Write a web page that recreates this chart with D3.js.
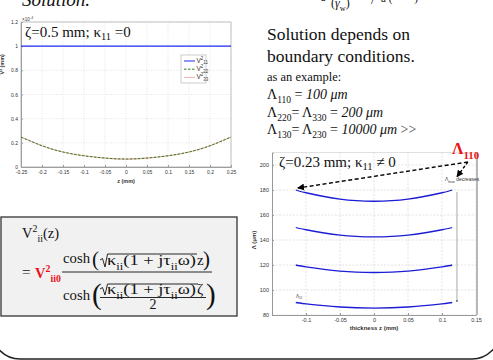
<!DOCTYPE html>
<html>
<head>
<meta charset="utf-8">
<script src="https://cdn.jsdelivr.net/npm/d3@7"></script>
<style>
  body { margin: 0; background: #fff; }
  svg { display: block; }
  .serif { font-family: "Liberation Serif", "Times New Roman", serif; fill: #111; }
  .tick-lbl { font-family: "Liberation Sans", Arial, sans-serif; font-size: 5px; fill: #333; }
</style>
</head>
<body>
<div id="chart"></div>
<script>
// ---- left plot: V^2 profiles, zeta = 0.5 mm
const leftZ = [-0.25, -0.2, -0.15, -0.1, -0.05, 0, 0.05, 0.1, 0.15, 0.2, 0.25];
const leftV11 = [1, 1, 1, 1, 1, 1, 1, 1, 1, 1, 1];
const leftV22 = [0.248, 0.176, 0.124, 0.093, 0.074, 0.066, 0.074, 0.093, 0.124, 0.176, 0.248];
const leftV33 = [0.248, 0.176, 0.124, 0.093, 0.074, 0.066, 0.074, 0.093, 0.124, 0.176, 0.248];
const leftXTicks = [-0.25, -0.2, -0.15, -0.1, -0.05, 0, 0.05, 0.1, 0.15, 0.2, 0.25];
const leftYTicks = [0, 0.2, 0.4, 0.6, 0.8, 1, 1.2];

// ---- right plot: Lambda vs thickness, zeta = 0.23 mm
const rightZ = [-0.115, -0.1, -0.05, 0, 0.05, 0.1, 0.115];
const lambda1 = [180, 177.8, 172.7, 171, 172.7, 177.8, 180];
const lambda2 = [150, 148.2, 143.9, 142.5, 143.9, 148.2, 150];
const lambda3 = [120, 118.5, 115.1, 114, 115.1, 118.5, 120];
const lambda4 = [90, 88.9, 86.4, 85.5, 86.4, 88.9, 90];
const rightXTicks = [-0.1, -0.05, 0, 0.05, 0.1, 0.15];
const rightYTicks = [80, 100, 120, 140, 160, 180, 200];

const W = 493, H = 360;
const svg = d3.select('#chart').append('svg').attr('width', W).attr('height', H);

svg.append('defs').append('marker')
  .attr('id', 'ah').attr('viewBox', '0 0 10 10').attr('refX', 9).attr('refY', 5)
  .attr('markerWidth', 5).attr('markerHeight', 5).attr('orient', 'auto-start-reverse')
  .append('path').attr('d', 'M0,0L10,5L0,10z').attr('fill', '#000');
svg.select('defs').append('marker')
  .attr('id', 'ahs').attr('viewBox', '0 0 10 10').attr('refX', 9).attr('refY', 5)
  .attr('markerWidth', 4).attr('markerHeight', 4).attr('orient', 'auto')
  .append('path').attr('d', 'M0,0L10,5L0,10z').attr('fill', '#333');

// text with sub/superscripts: parts = [[text, 'sub'|'sup'|null, extra style]]
function rich(x, y, size, parts, cls) {
  const t = svg.append('text').attr('x', x).attr('y', y).attr('class', cls || 'serif')
    .style('font-size', size + 'px');
  let off = 0;
  parts.forEach(p => {
    const s = t.append('tspan').text(p[0]);
    let want = 0;
    if (p[1] === 'sub') want = size * 0.3;
    if (p[1] === 'sup') want = -size * 0.38;
    if (p[1]) s.style('font-size', (size * 0.68) + 'px');
    s.attr('dy', want - off);
    off = want;
    if (p[2]) Object.keys(p[2]).forEach(k => s.style(k, p[2][k]));
  });
  return t;
}

// ---------------- top texts (cut by the slide edge)
svg.append('text').attr('class', 'serif').attr('x', 22).attr('y', 6)
  .style('font-size', '19px').style('font-style', 'italic').text('Solution.');
rich(331, 7, 12, [['(', null], ['γ', null, {'font-style': 'italic'}], ['w', 'sub'], [')', null]]);
svg.append('text').attr('class', 'serif').attr('x', 321).attr('y', 1).style('font-size', '10px').text('a');
svg.append('text').attr('class', 'serif').attr('x', 371).attr('y', 4).style('font-size', '13px').text('/');
svg.append('text').attr('class', 'serif').attr('x', 381).attr('y', 2).style('font-size', '11px').text('a ( · · · )');

svg.append('text').attr('class', 'serif').attr('x', 267).attr('y', 40).style('font-size', '17.5px').text('Solution depends on');
svg.append('text').attr('class', 'serif').attr('x', 267).attr('y', 62).style('font-size', '17.5px').text('boundary conditions.');
svg.append('text').attr('class', 'serif').attr('x', 267).attr('y', 81).style('font-size', '12.5px').text('as an example:');
rich(267, 99, 14, [['Λ', null], ['110', 'sub'], [' = ', null], ['100 μm', null, {'font-style': 'italic'}]]);
rich(267, 117, 14, [['Λ', null], ['220', 'sub'], ['= Λ', null], ['330', 'sub'], [' = ', null], ['200 μm', null, {'font-style': 'italic'}]]);
rich(267, 134, 14, [['Λ', null], ['130', 'sub'], ['= Λ', null], ['230', 'sub'], [' = ', null], ['10000 μm', null, {'font-style': 'italic'}], [' >>', null, {fill: '#444'}]]);

// ---------------- left chart
const lx = d3.scaleLinear().domain([-0.25, 0.25]).range([21, 231]);
const ly = d3.scaleLinear().domain([0, 1.2]).range([167, 22]);
const lg = svg.append('g');

function styleAxis(a) {
  a.select('.domain').attr('stroke', '#999');
  a.selectAll('line').attr('stroke', '#999');
  a.selectAll('text').attr('class', 'tick-lbl').attr('fill', null);
  a.attr('font-size', null).attr('font-family', null);
}

lg.selectAll('.vg').data(leftXTicks).join('line')
  .attr('x1', d => lx(d)).attr('x2', d => lx(d)).attr('y1', ly(0)).attr('y2', ly(1.2))
  .attr('stroke', '#d4d4d4').attr('stroke-width', 0.6).attr('stroke-dasharray', '1,1.5');
lg.selectAll('.hg').data(leftYTicks).join('line')
  .attr('x1', lx(-0.25)).attr('x2', lx(0.25)).attr('y1', d => ly(d)).attr('y2', d => ly(d))
  .attr('stroke', '#d4d4d4').attr('stroke-width', 0.6).attr('stroke-dasharray', '1,1.5');

lg.append('g').attr('transform', `translate(0,${ly(0)})`)
  .call(d3.axisBottom(lx).tickValues(leftXTicks).tickSize(-2).tickPadding(3).tickFormat(d => String(d)))
  .call(styleAxis);
lg.append('g').attr('transform', `translate(${lx(-0.25)},0)`)
  .call(d3.axisLeft(ly).tickValues(leftYTicks).tickSize(-2).tickPadding(3).tickFormat(d => String(d)))
  .call(styleAxis);
lg.append('rect').attr('x', lx(-0.25)).attr('y', ly(1.2)).attr('width', lx(0.25) - lx(-0.25))
  .attr('height', ly(0) - ly(1.2)).attr('fill', 'none').attr('stroke', '#aaa').attr('stroke-width', 0.7);

svg.append('text').attr('class', 'tick-lbl').attr('x', 22).attr('y', 21).style('font-size', '4.5px').text('×10');
svg.append('text').attr('class', 'tick-lbl').attr('x', 30).attr('y', 18.5).style('font-size', '3.5px').text('-4');
svg.append('text').attr('class', 'tick-lbl').attr('x', lx(0)).attr('y', 183).attr('text-anchor', 'middle')
  .style('font-size', '5.5px').style('font-weight', 'bold').text('z (mm)');
svg.append('text').attr('class', 'tick-lbl').attr('transform', `translate(4,${ly(0.85)}) rotate(-90)`)
  .attr('text-anchor', 'middle').style('font-size', '5.5px').style('font-weight', 'bold').text('V² (mm)');

const lline = d3.line().x((d, i) => lx(leftZ[i])).y(d => ly(d)).curve(d3.curveNatural);
lg.append('path').attr('d', lline(leftV33)).attr('fill', 'none').attr('stroke', '#f4b0b0').attr('stroke-width', 1.2);
lg.append('path').attr('d', lline(leftV22)).attr('fill', 'none').attr('stroke', '#2e7d1e').attr('stroke-width', 1).attr('stroke-dasharray', '2.5,1.5');
lg.append('path').attr('d', lline(leftV11)).attr('fill', 'none').attr('stroke', '#1f2bf0').attr('stroke-width', 1.3);

// legend
const legItems = [['11', '#1f2bf0', null], ['22', '#2e7d1e', '2.5,1.5'], ['33', '#f4b0b0', null]];
lg.append('rect').attr('x', 181).attr('y', 55).attr('width', 25).attr('height', 28)
  .attr('fill', '#fff').attr('stroke', '#aaa').attr('stroke-width', 0.6);
legItems.forEach((it, i) => {
  const yy = 61 + i * 8.2;
  lg.append('line').attr('x1', 184).attr('x2', 195).attr('y1', yy).attr('y2', yy)
    .attr('stroke', it[1]).attr('stroke-width', 1).attr('stroke-dasharray', it[2]);
  rich(196.5, yy + 1.5, 6.5, [['V', null], ['2', 'sup'], [it[0], 'sub']], 'tick-lbl');
});

svg.append('text').attr('class', 'serif').attr('x', 25).attr('y', 37).style('font-size', '15px')
  .call(t => { t.append('tspan').text('ζ=0.5 mm; κ'); t.append('tspan').attr('dy', 3).style('font-size', '10.5px').text('11');
    t.append('tspan').attr('dy', -3).text(' =0'); });

// ---------------- formula box
svg.append('rect').attr('x', 1).attr('y', 217).attr('width', 236).attr('height', 99)
  .attr('fill', '#f1f1f1').attr('stroke', '#333').attr('stroke-width', 1.3);
rich(22, 238, 14.5, [['V', null], ['2', 'sup'], ['ii', 'sub'], ['(z)', null]]);
svg.append('text').attr('class', 'serif').attr('x', 22).attr('y', 277).style('font-size', '15px').text('=');
rich(35, 278, 14.5, [['V', null, {fill: '#e8141b', 'font-weight': 'bold'}], ['2', 'sup', {fill: '#e8141b', 'font-weight': 'bold'}],
  ['ii0', 'sub', {fill: '#e8141b', 'font-weight': 'bold'}]]);
// numerator
svg.append('text').attr('class', 'serif').attr('x', 63).attr('y', 263).style('font-size', '15px')
  .attr('textLength', 27).attr('lengthAdjust', 'spacingAndGlyphs').text('cosh');
svg.append('text').attr('class', 'serif').attr('x', 92).attr('y', 266).style('font-size', '21px').text('(');
svg.append('text').attr('class', 'serif').attr('x', 203).attr('y', 266).style('font-size', '21px').text(')');
svg.append('path').attr('d', 'M100,260L102.5,258.5L105,267L107.5,254L197,254').attr('fill', 'none').attr('stroke', '#111').attr('stroke-width', 0.9);
rich(107, 265, 15, [['κ', null], ['ii', 'sub'], ['(1 + j', null], ['τ', null], ['ii', 'sub'], ['ω)', null]])
  .attr('textLength', 89).attr('lengthAdjust', 'spacingAndGlyphs');
svg.append('text').attr('class', 'serif').attr('x', 197).attr('y', 265).style('font-size', '15px').text('z');
svg.append('line').attr('x1', 62).attr('x2', 212).attr('y1', 272).attr('y2', 272).attr('stroke', '#111').attr('stroke-width', 0.9);
// denominator
svg.append('text').attr('class', 'serif').attr('x', 63).attr('y', 300).style('font-size', '15px')
  .attr('textLength', 27).attr('lengthAdjust', 'spacingAndGlyphs').text('cosh');
svg.append('text').attr('class', 'serif').attr('x', 92).attr('y', 304).style('font-size', '29px').text('(');
svg.append('text').attr('class', 'serif').attr('x', 206).attr('y', 304).style('font-size', '29px').text(')');
svg.append('path').attr('d', 'M100,289L102.5,287.5L105,295L107.5,284L198,284').attr('fill', 'none').attr('stroke', '#111').attr('stroke-width', 0.9);
rich(107, 294, 15, [['κ', null], ['ii', 'sub'], ['(1 + j', null], ['τ', null], ['ii', 'sub'], ['ω)', null]])
  .attr('textLength', 89).attr('lengthAdjust', 'spacingAndGlyphs');
svg.append('text').attr('class', 'serif').attr('x', 197).attr('y', 294).style('font-size', '15px').text('ζ');
svg.append('line').attr('x1', 100).attr('x2', 206).attr('y1', 297.5).attr('y2', 297.5).attr('stroke', '#111').attr('stroke-width', 0.9);
svg.append('text').attr('class', 'serif').attr('x', 153).attr('y', 309).attr('text-anchor', 'middle').style('font-size', '14px').text('2');

// ---------------- right chart
const rx = d3.scaleLinear().domain([-0.15, 0.15]).range([272, 476]);
const ry = d3.scaleLinear().domain([80, 210]).range([315, 152.5]);
const rg = svg.append('g');

rg.selectAll('.vg').data(rightXTicks).join('line')
  .attr('x1', d => rx(d)).attr('x2', d => rx(d)).attr('y1', ry(80)).attr('y2', ry(210))
  .attr('stroke', '#d0d0d0').attr('stroke-width', 0.6).attr('stroke-dasharray', '2,1.5');
rg.selectAll('.hg').data(rightYTicks).join('line')
  .attr('x1', rx(-0.15)).attr('x2', rx(0.15)).attr('y1', d => ry(d)).attr('y2', d => ry(d))
  .attr('stroke', '#d0d0d0').attr('stroke-width', 0.6).attr('stroke-dasharray', '2,1.5');

rg.append('g').attr('transform', `translate(0,${ry(80)})`)
  .call(d3.axisBottom(rx).tickValues(rightXTicks).tickSize(-2).tickPadding(3).tickFormat(d => String(d)))
  .call(styleAxis);
rg.append('g').attr('transform', `translate(${rx(-0.15)},0)`)
  .call(d3.axisLeft(ry).tickValues(rightYTicks).tickSize(-2).tickPadding(3).tickFormat(d => String(d)))
  .call(styleAxis);
rg.selectAll('.tick text').style('font-size', '5.5px');
rg.append('line').attr('x1', rx(-0.15)).attr('x2', rx(0.15)).attr('y1', ry(210)).attr('y2', ry(210)).attr('stroke', '#ccc').attr('stroke-width', 0.6);
rg.append('line').attr('x1', rx(0.15) + 1).attr('x2', rx(0.15) + 1).attr('y1', ry(210)).attr('y2', ry(80)).attr('stroke', '#b8b8b8').attr('stroke-width', 2);

svg.append('text').attr('class', 'tick-lbl').attr('x', rx(0)).attr('y', 330).attr('text-anchor', 'middle')
  .style('font-size', '6px').style('font-weight', 'bold').text('thickness z (mm)');
svg.append('text').attr('class', 'tick-lbl').attr('transform', `translate(256,${ry(140)}) rotate(-90)`)
  .attr('text-anchor', 'middle').style('font-size', '6px').style('font-weight', 'bold').text('Λ (μm)');

const rline = d3.line().x((d, i) => rx(rightZ[i])).y(d => ry(d)).curve(d3.curveNatural);
rg.selectAll('.lam').data([lambda1, lambda2, lambda3, lambda4]).join('path')
  .attr('d', d => rline(d)).attr('fill', 'none').attr('stroke', '#1c1cd4').attr('stroke-width', 1.3);

// annotations
svg.append('text').attr('class', 'serif').attr('x', 279).attr('y', 167).style('font-size', '15px')
  .call(t => { t.append('tspan').text('ζ=0.23 mm; κ'); t.append('tspan').attr('dy', 3).style('font-size', '10.5px').text('11');
    t.append('tspan').attr('dy', -3).text(' ≠ 0'); });
rich(452, 154, 16, [['Λ', null, {fill: '#ee1111', 'font-weight': 'bold'}], ['110', 'sub', {fill: '#ee1111', 'font-weight': 'bold'}]]);
svg.append('line').attr('x1', rx(0.138)).attr('y1', ry(202.4)).attr('x2', rx(-0.112)).attr('y2', ry(181.6))
  .attr('stroke', '#000').attr('stroke-width', 1.4).attr('stroke-dasharray', '4,2.5').attr('marker-end', 'url(#ah)');
svg.append('line').attr('x1', rx(0.138)).attr('y1', ry(202.4)).attr('x2', rx(0.122)).attr('y2', ry(190.6))
  .attr('stroke', '#000').attr('stroke-width', 1.4).attr('stroke-dasharray', '3,2').attr('marker-end', 'url(#ah)');
svg.append('line').attr('x1', rx(0.122)).attr('y1', ry(178.4)).attr('x2', rx(0.122)).attr('y2', ry(90.4))
  .attr('stroke', '#555').attr('stroke-width', 0.5).attr('marker-end', 'url(#ahs)');
rich(445, 181, 5, [['Λ', null], ['max', 'sub'], ['  decreases', null]], 'tick-lbl');
rich(296, 298, 4.5, [['Λ', null], ['11', 'sub']], 'tick-lbl');

// outer rounded frame
svg.append('rect').attr('x', -8).attr('y', -60).attr('width', 508).attr('height', 419).attr('rx', 28)
  .attr('fill', 'none').attr('stroke', '#222').attr('stroke-width', 1.5);
</script>
</body>
</html>
